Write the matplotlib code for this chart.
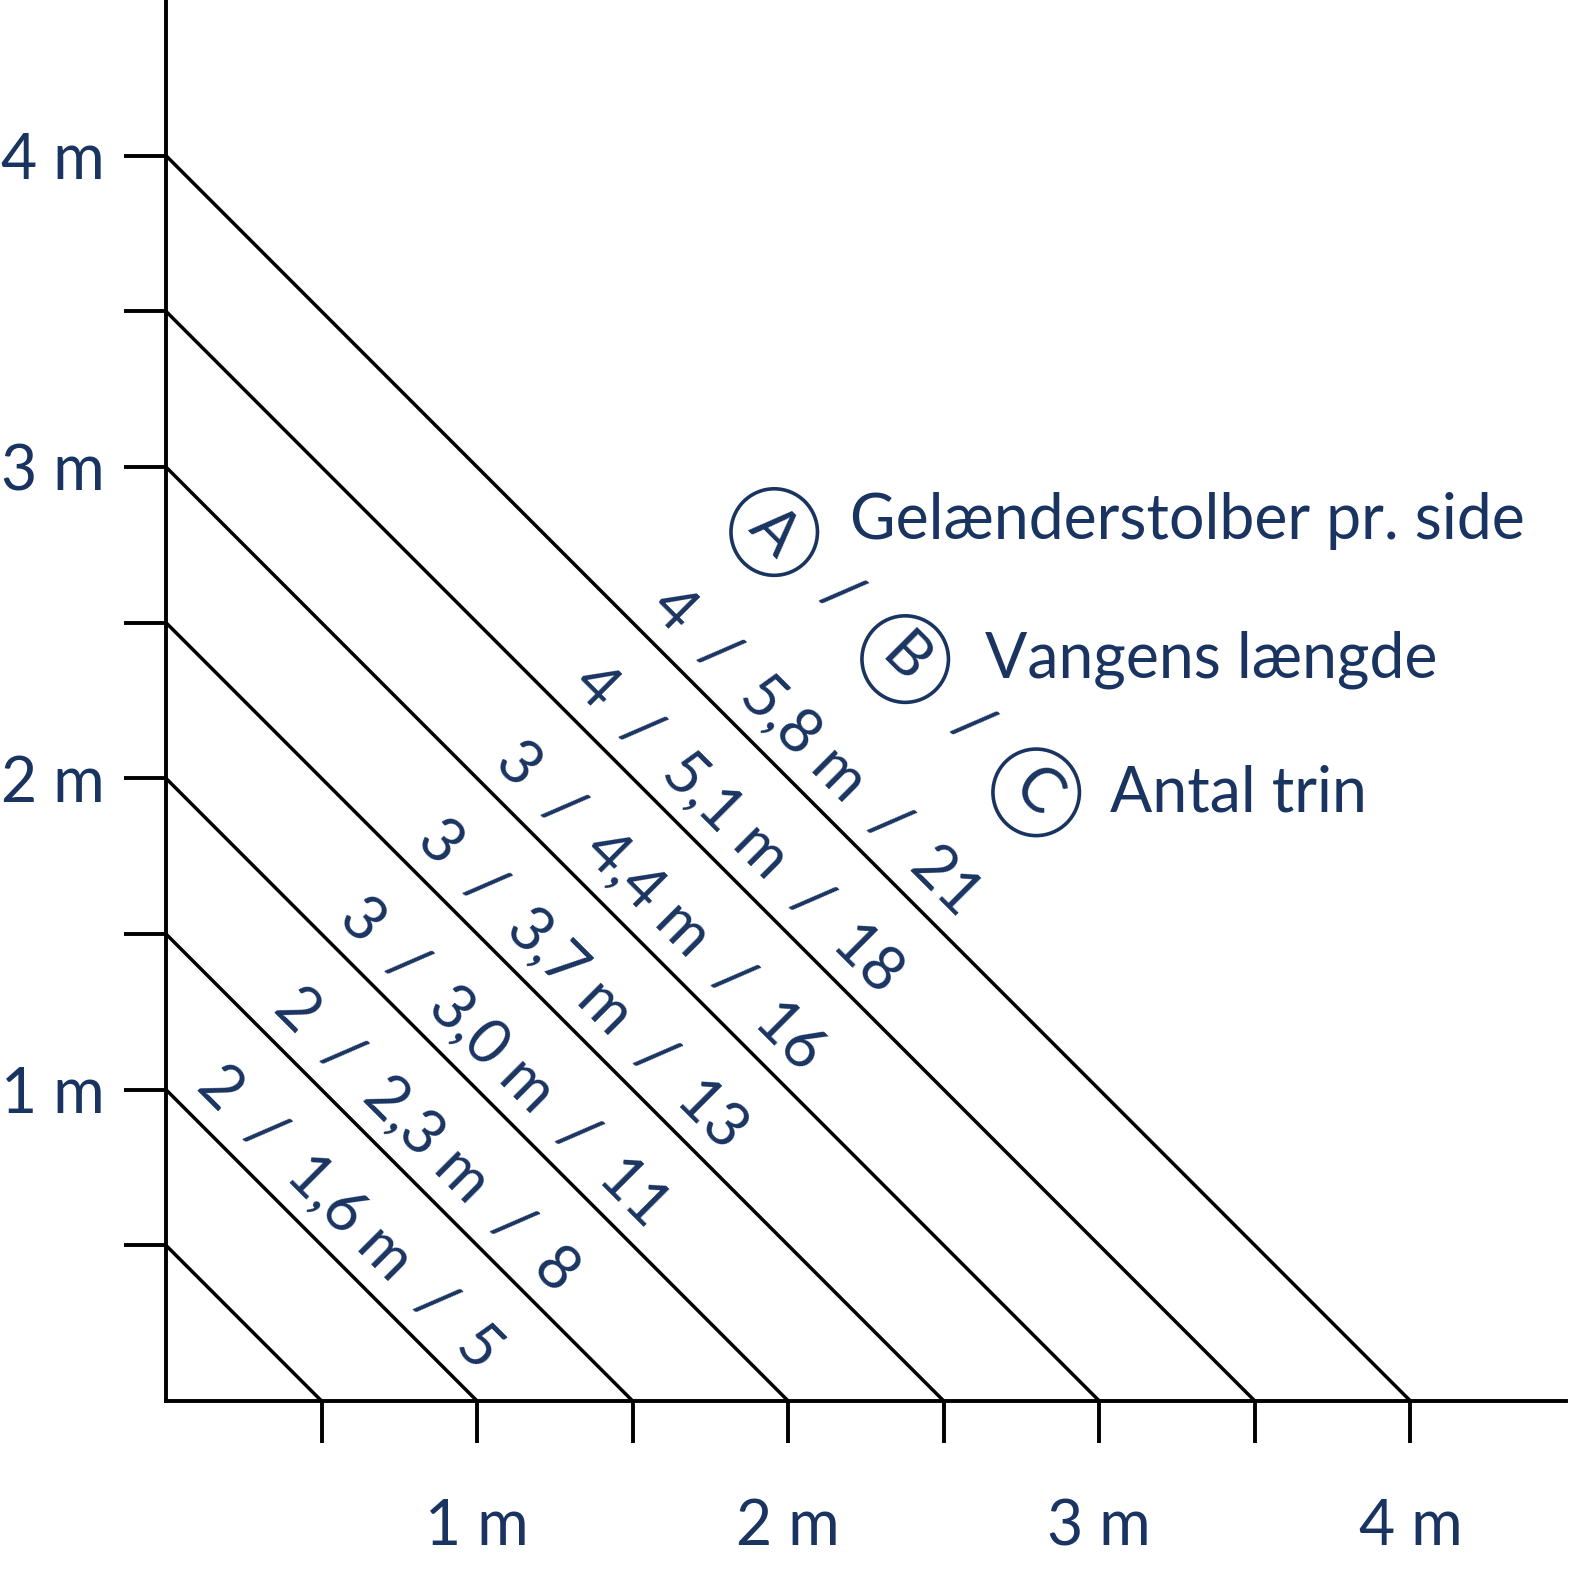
import matplotlib
matplotlib.use("Agg")
import matplotlib.pyplot as plt
from matplotlib.patches import Circle

plt.rcParams["font.family"] = ["Lato", "DejaVu Sans"]

NAVY = "#1a3461"

# stair heights (m) -> one diagonal line per height
heights = [0.5, 1.0, 1.5, 2.0, 2.5, 3.0, 3.5, 4.0]

# labelled lines: posts per side / stringer length / number of steps
label_heights = [1.0, 1.5, 2.0, 2.5, 3.0, 3.5, 4.0]
posts = [2, 2, 3, 3, 3, 4, 4]
stringer = ["1,6", "2,3", "3,0", "3,7", "4,4", "5,1", "5,8"]
steps = [5, 8, 11, 13, 16, 18, 21]

tick_pos = [0.5, 1.0, 1.5, 2.0, 2.5, 3.0, 3.5, 4.0]
tick_labels = ["", "1 m", "", "2 m", "", "3 m", "", "4 m"]

legend_letters = ["A", "B", "C"]
legend_texts = ["Gelænderstolber pr. side", "Vangens længde", "Antal trin"]

fig = plt.figure(figsize=(15.84, 15.81), dpi=100)
ax = fig.add_axes([166 / 1584, 180 / 1581, 1400 / 1584, 1401 / 1581])
ax.set_xlim(0, 4.5)
ax.set_ylim(0, 4.5)

for h in heights:
    ax.plot([0, h], [h, 0], color="black", lw=2.5, solid_capstyle="butt")

off = 0.088
for h, a, b, c in zip(label_heights, posts, stringer, steps):
    ax.text(h / 2 + off, h / 2 + off, f"{a}  /  {b} m  /  {c}",
            rotation=-45, rotation_mode="anchor", ha="center", va="center",
            fontsize=44, color=NAVY)

# legend: circled letters on a diagonal, separated by slashes
circ_xy = [(1.955, 2.791), (2.376, 2.383), (2.797, 1.955)]
for (cx, cy), letter in zip(circ_xy, legend_letters):
    ax.add_patch(Circle((cx, cy), 0.139, fill=False, ec=NAVY, lw=2.6))
    ax.text(cx, cy, letter, rotation=-45, rotation_mode="anchor",
            ha="center", va="center", fontsize=44, color=NAVY)
for sx, sy in [(2.166, 2.587), (2.587, 2.166)]:
    ax.text(sx, sy, "/", rotation=-45, rotation_mode="anchor",
            ha="center", va="center", fontsize=44, color=NAVY)

text_xy = [(2.199, 2.768), (2.633, 2.325), (3.035, 1.894)]
for (tx, ty), txt in zip(text_xy, legend_texts):
    ax.text(tx, ty, txt, ha="left", va="baseline", fontsize=45, color=NAVY)

ax.set_xticks(tick_pos)
ax.set_xticklabels(tick_labels)
ax.set_yticks(tick_pos)
ax.set_yticklabels(tick_labels)
ax.tick_params(axis="both", length=30, width=2.8, direction="out",
               color="black", labelcolor=NAVY, labelsize=45)
ax.tick_params(axis="y", pad=14)
ax.tick_params(axis="x", pad=40)

for side in ["top", "right"]:
    ax.spines[side].set_visible(False)
for side in ["left", "bottom"]:
    ax.spines[side].set_linewidth(2.8)

fig.savefig("out.png", dpi=100)
